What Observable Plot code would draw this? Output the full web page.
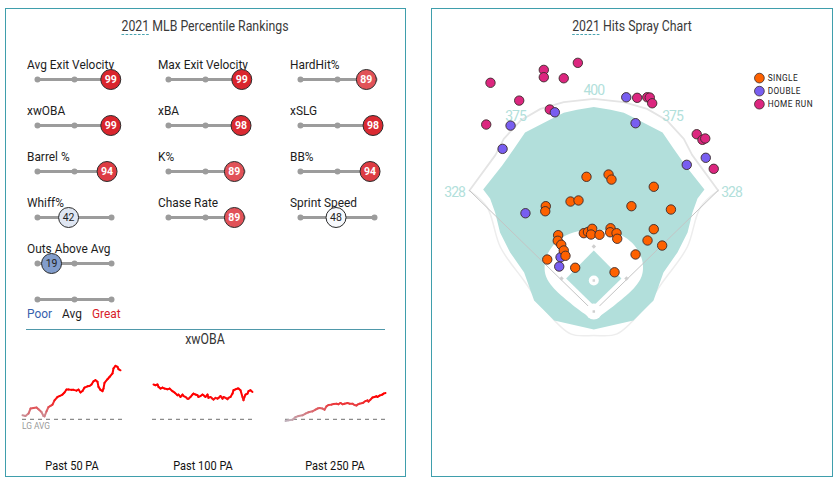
<!DOCTYPE html>
<html><head><meta charset="utf-8">
<script src="https://cdn.jsdelivr.net/npm/d3@7"></script>
<script src="https://cdn.jsdelivr.net/npm/@observablehq/plot@0.6"></script>
<style>
html,body{margin:0;padding:0;background:#fff;}
#root{position:relative;width:839px;height:483px;overflow:hidden;font-family:Roboto,"Noto Sans",sans-serif;color:#1d1d1d;}
.panel{position:absolute;border:1.5px solid #3f9eac;box-sizing:border-box;}
.t{position:absolute;white-space:nowrap;line-height:1;}
.c{transform:translateX(-50%) scaleX(0.88);}
.l{transform-origin:0 0;transform:scaleX(0.88);}
.title{font-size:14px;color:#3a3a3a;}
.title span{text-decoration:underline dashed #3f9eac;text-decoration-thickness:1px;text-underline-offset:3px;}
.holder{position:absolute;}
.holder svg{overflow:visible;background:transparent;}
</style></head>
<body><div id="root"></div>
<script>
// ---------- data ----------
const metricNames = ["Avg Exit Velocity","Max Exit Velocity","HardHit%","xwOBA","xBA","xSLG","Barrel %","K%","BB%","Whiff%","Chase Rate","Sprint Speed","Outs Above Avg"];
const percentiles = [99,99,89,99,98,98,94,89,94,42,89,48,19];
const sliderTicks = [0,50,100];
const scaleLabels = ["Poor","Avg","Great"];
const scaleLabelColors = ["#3661ad","#1d1d1d","#d82129"];
const sparkTitles = ["Past 50 PA","Past 100 PA","Past 250 PA"];
const lgAvg = 0.315;
const past50 = [[0,.337],[3,.333],[6,.346],[8,.373],[11,.376],[14,.378],[16,.369],[19,.354],[21,.333],[22,.331],[24,.358],[26,.381],[28,.387],[30,.394],[32,.417],[35,.435],[37,.440],[40,.448],[42,.459],[44,.475],[46,.475],[49,.473],[51,.473],[54,.469],[56,.475],[58,.459],[60,.467],[62,.485],[65,.492],[67,.494],[69,.502],[71,.519],[73,.525],[75,.516],[76,.489],[78,.473],[80,.466],[81,.480],[82,.510],[85,.530],[87,.542],[90,.561],[91,.588],[93,.602],[95,.596],[96,.584],[98,.578]];
const past100 = [[1,.502],[3,.498],[5,.502],[6,.489],[8,.480],[10,.485],[12,.480],[15,.476],[17,.480],[20,.466],[22,.459],[25,.444],[26,.448],[28,.435],[30,.448],[31,.440],[33,.435],[35,.426],[36,.426],[38,.435],[40,.448],[41,.453],[43,.448],[45,.444],[46,.435],[48,.440],[50,.448],[51,.444],[53,.435],[55,.448],[56,.430],[58,.435],[60,.426],[61,.421],[63,.430],[65,.426],[66,.430],[68,.440],[70,.426],[71,.435],[73,.430],[75,.423],[76,.430],[78,.435],[80,.453],[81,.471],[83,.476],[85,.480],[86,.480],[88,.471],[90,.435],[91,.417],[92,.435],[93,.448],[95,.453],[96,.466],[98,.471],[100,.462]];
const past250 = [[0,.306],[3,.310],[7,.313],[10,.327],[13,.333],[17,.337],[20,.346],[23,.353],[27,.358],[30,.367],[32,.373],[34,.376],[37,.373],[39,.367],[41,.385],[43,.392],[46,.394],[48,.397],[51,.399],[53,.396],[55,.403],[57,.396],[59,.399],[62,.403],[64,.399],[67,.399],[69,.392],[71,.389],[72,.394],[74,.399],[77,.403],[78,.405],[80,.413],[82,.417],[83,.410],[85,.421],[87,.432],[89,.435],[91,.439],[92,.435],[94,.442],[97,.448],[98,.453],[100,.456]];

// spray chart (Statcast hc_x / hc_y style coordinates, home plate = [125,200])
const hitTypes = ["SINGLE","DOUBLE","HOME RUN"];
const hitColors = ["#fe6100","#785ef0","#dc267f"];
const singles = [[119.5,98.7],[136.1,97.0],[138.3,100.8],[170.1,106.2],[107.5,117.3],[113.5,116.5],[88.9,120.8],[88.5,124.6],[153.3,120.8],[183.0,123.3],[117.5,141.1],[120.6,140.2],[123.8,137.8],[122.9,142.1],[129.3,142.3],[137.6,137.4],[137.3,140.4],[142.1,141.1],[142.6,145.3],[98.2,142.6],[97.9,146.8],[100.5,149.8],[102.4,154.1],[103.7,158.1],[90.0,160.9],[111.0,167.1],[170.1,138.1],[165.4,146.6],[176.4,150.4],[156.4,157.1],[140.6,170.5]];
const doubles = [[95.7,50.2],[62.4,60.2],[56.4,77.7],[149.4,38.9],[156.4,58.4],[209.2,84.4],[194.9,89.7],[73.6,126.1],[100.0,159.2],[99.0,166.2]];
const homeRuns = [[113.0,13.0],[87.4,18.3],[87.4,23.8],[102.4,24.6],[47.3,28.0],[68.9,41.4],[91.9,48.1],[44.1,59.4],[157.6,39.3],[165.2,38.9],[167.1,39.1],[168.9,43.4],[202.4,66.7],[206.7,70.9],[208.8,69.9],[215.2,92.7]];
const fenceDistances = ["328","375","400","375","328"];
const fenceLabelX = [20.3,66.1,125,184.2,228.5];
const fenceLabelY = [110.5,53.4,33.8,53.4,110.5];
const fence = [[31.5,109.0],[51.1,82.2],[57.3,70.2],[69.9,56.4],[84.9,47.6],[102.4,42.6],[125,40.1],[147.6,42.6],[165.1,47.6],[180.1,56.4],[192.7,70.2],[198.9,82.2],[218.5,109.0]];
const outerWall = [[31.5,109.0],[44.8,121.6],[54.8,151.7],[72.4,176.7],[88.7,199.2],[107.5,216.8],[125,218.0],[142.5,216.8],[161.3,199.2],[177.6,176.7],[195.2,151.7],[205.2,121.6],[218.5,109.0]];
const grass = [[125,46.2],[137.6,48.3],[147.6,50.6],[154.8,54.1],[176.7,65.4],[184.9,77.4],[193.9,90.2],[208.2,108.3],[203.0,115.0],[199.2,125.6],[195.5,140.6],[187.9,155.6],[177.4,170.7],[169.9,191.7],[154.8,206.8],[125,213.5],[95.2,206.8],[80.1,191.7],[72.6,170.7],[62.1,155.6],[54.5,140.6],[50.8,125.6],[47.0,115.0],[41.8,108.3],[56.1,90.2],[65.1,77.4],[73.3,65.4],[95.2,54.1],[102.4,50.6],[112.4,48.3]];
const infieldDirt = [[125,138.3],[137.6,139.8],[148.1,144.0],[155.6,150.4],[160.5,158.6],[162.0,166.2],[160.9,173.7],[155.6,182.0],[132.3,201.5],[125,205.3],[117.7,201.5],[94.4,182.0],[89.1,173.7],[88.0,166.2],[89.5,158.6],[94.4,150.4],[101.9,144.0],[112.4,139.8]];
const infieldGrass = [[125,154.1],[145.8,175.2],[125,195.5],[104.2,175.2]];
const foulLines = [[31.5,109.0],[125,200],[218.5,109.0]];
const bases = [[149.6,175.2],[125,151.1],[100.7,175.2]];
const mound = [125,176.7];
const homePlate = [125,200];

// ---------- layout ----------
const root = document.getElementById("root");
function el(cls, css, html){const d=document.createElement("div");d.className=cls;Object.assign(d.style,css);if(html!=null)d.innerHTML=html;root.appendChild(d);return d;}
function holder(left, top, node){const d=el("holder",{left:left+"px",top:top+"px"});d.appendChild(node);return d;}

el("panel",{left:"5px",top:"8px",width:"401px",height:"469px"});
el("panel",{left:"431px",top:"8px",width:"402px",height:"469px"});
el("t title c",{left:"205px",top:"19px"},"<span>2021</span> MLB Percentile Rankings");
el("t title c",{left:"632px",top:"19px"},"<span>2021</span> Hits Spray Chart");

const colLefts = [27,158,290];
const rowCenters = [79,125,171,217,263];
const pctColor = {type:"linear",domain:[0,50,100],range:["#3661ad","#ffffff","#d82129"]};

function slider(value){
  const [lo,hi] = d3.extent(sliderTicks);
  const marks = [
    Plot.ruleY([0],{x1:lo,x2:hi,stroke:"#9c9c9c",strokeWidth:3}),
    Plot.dot(sliderTicks,{x:d=>d,y:0,r:3,fill:"#9c9c9c"})
  ];
  if (value != null){
    const strong = value >= 70;
    marks.push(Plot.dot([value],{x:d=>d,y:0,r:10,fill:d=>d,stroke:"#2a2a2a",strokeWidth:1}));
    marks.push(Plot.text([value],{x:d=>d,y:0,text:d=>String(d),fill:strong?"#ffffff":"#222222",fontSize:10.5,fontWeight:strong?700:400,fontFamily:"Roboto"}));
  }
  return Plot.plot({width:110,height:24,marginLeft:10,marginRight:26,marginTop:0,marginBottom:0,
    x:{domain:[0,100],axis:null},y:{domain:[-1,1],axis:null},color:pctColor,
    style:"background:transparent;overflow:visible",marks});
}

metricNames.forEach((name,i)=>{
  const col=i%3,row=Math.floor(i/3);
  el("t l",{left:colLefts[col]+"px",top:(rowCenters[row]-21)+"px",fontSize:"13.5px"},name);
});
metricNames.forEach((name,i)=>{
  const col=i%3,row=Math.floor(i/3);
  holder(colLefts[col],rowCenters[row]-12,slider(percentiles[i]));
});
holder(colLefts[0],299-12,slider(null));
[27,62,92].forEach((x,i)=>el("t l",{left:x+"px",top:"307px",fontSize:"13.5px",color:scaleLabelColors[i]},scaleLabels[i]));

// separator + xwOBA
el("t",{left:"26px",top:"329px",width:"359px",height:"0",borderTop:"1px solid #4f98aa"});
el("t c",{left:"205px",top:"332px",fontSize:"14px",color:"#333"},"xwOBA");

function spark(series){
  const segs = d3.pairs(series);
  return Plot.plot({width:110,height:84,marginLeft:5,marginRight:5,marginTop:0,marginBottom:0,
    x:{domain:[0,100],axis:null},y:{domain:[0.25,0.70],axis:null},
    color:{type:"linear",domain:[0.30,0.44],range:["#bcbcc6","#ff0000"],clamp:true},
    style:"background:transparent;overflow:visible",
    marks:[
      Plot.ruleY([lgAvg],{x1:0,x2:100,stroke:"#8c8c8c",strokeWidth:1.3,strokeDasharray:"4,4"}),
      Plot.link(segs,{x1:d=>d[0][0],y1:d=>d[0][1],x2:d=>d[1][0],y2:d=>d[1][1],stroke:d=>(d[0][1]+d[1][1])/2,strokeWidth:2,strokeLinecap:"round"})
    ]});
}
const sparkOrigins=[22,152,285];
[past50,past100,past250].forEach((s,i)=>holder(sparkOrigins[i]-5,347,spark(s)));
el("t l",{left:"22px",top:"421px",fontSize:"9.5px",color:"#9a9a9a"},"LG AVG");
[72,203,335].forEach((x,i)=>el("t c",{left:x+"px",top:"460px",fontSize:"12.5px",color:"#111"},sparkTitles[i]));

// spray chart
const hits = [
  ...homeRuns.map(([x,y])=>({x,y,type:"HOME RUN"})),
  ...doubles.map(([x,y])=>({x,y,type:"DOUBLE"})),
  ...singles.map(([x,y])=>({x,y,type:"SINGLE"}))
];
const fenceLabels = fenceDistances.map((t,i)=>({t,x:fenceLabelX[i],y:fenceLabelY[i]}));
const spray = Plot.plot({width:400,height:300,margin:0,
  x:{domain:[3.7,304.5],axis:null},y:{domain:[-3.8,221.8],range:[0,300],axis:null},
  color:{domain:hitTypes,range:hitColors},
  style:"background:transparent;overflow:visible;font-family:Roboto",
  marks:[
    Plot.line(outerWall,{stroke:"#ededed",strokeWidth:1.5,curve:"catmull-rom"}),
    Plot.line(grass,{fill:"#b2dfdb",stroke:"none"}),
    Plot.line(fence,{stroke:"#e4e4e4",strokeWidth:1.8}),
    Plot.line(infieldDirt,{fill:"#ffffff",stroke:"none",curve:"catmull-rom-closed"}),
    Plot.line(infieldGrass,{fill:"#b2dfdb",stroke:"none"}),
    Plot.line(foulLines,{stroke:"#c4c4c4",strokeWidth:1}),
    Plot.dot(bases,{symbol:"square",r:1.8,fill:"#cfcfcf",rotate:45}),
    Plot.dot([mound],{r:5,fill:"#ffffff"}),
    Plot.dot([mound],{symbol:"square",r:1.4,fill:"#d4d4d4"}),
    Plot.dot([homePlate],{r:8,fill:"#ffffff"}),
    Plot.dot([homePlate],{symbol:"square",r:1.4,fill:"#cfcfcf"}),
    Plot.text(fenceLabels,{x:"x",y:"y",text:"t",fill:"#b2dfdb",fontSize:14}),
    Plot.dot(hits,{x:"x",y:"y",fill:"type",r:4.7,stroke:"#3a2a2a",strokeWidth:0.9})
  ]});
spray.querySelectorAll("text").forEach(t=>t.setAttribute("letter-spacing","-1"));
holder(432,40,spray);

const legend = Plot.plot({width:100,height:70,margin:0,
  x:{domain:[0,1],range:[8,100],axis:null},y:{type:"point",domain:hitTypes,range:[10.3,56.3],axis:null},
  color:{domain:hitTypes,range:hitColors},
  style:"background:transparent;overflow:visible;font-family:Roboto",
  marks:[
    Plot.dot(hitTypes,{x:()=>0,y:d=>d,fill:d=>d,r:5.6,stroke:"#3a2a2a",strokeWidth:0.9}),
    Plot.text(hitTypes,{x:()=>0,y:d=>d,text:d=>d,dx:9.5,textAnchor:"start",fontSize:9.5,fill:"#222"})
  ]});
legend.querySelectorAll("text").forEach(t=>t.setAttribute("letter-spacing","0.5"));
holder(752,62,legend);
</script>
</body></html>
